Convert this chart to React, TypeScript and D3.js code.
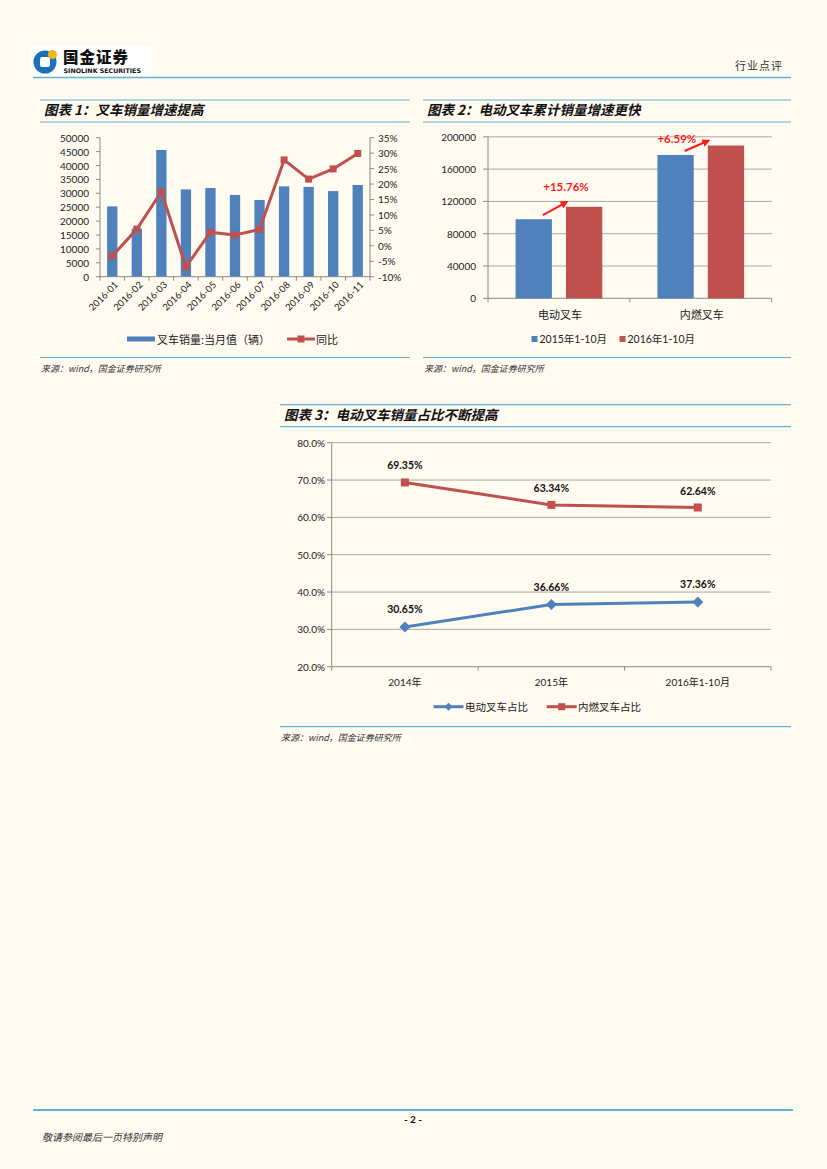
import * as d3 from "d3";
import { useEffect } from "react";

/* ------------------------------------------------------------------ */
/*  Data                                                               */
/* ------------------------------------------------------------------ */

const MONTHS = [
  "2016-01", "2016-02", "2016-03", "2016-04", "2016-05", "2016-06",
  "2016-07", "2016-08", "2016-09", "2016-10", "2016-11",
];
const MONTHLY_SALES = [25300, 17300, 45600, 31400, 31900, 29400, 27600, 32500, 32300, 30800, 33000];
const YOY = [-3.3, 5.4, 17.5, -6.8, 4.4, 3.5, 5.3, 27.8, 21.6, 24.9, 29.9];

const TYPES = ["电动叉车", "内燃叉车"];
const PERIODS = ["2015年1-10月", "2016年1-10月"];
const CUM_2015 = [97900, 177500];
const CUM_2016 = [113300, 189200];
const GROWTH_LABELS = ["+15.76%", "+6.59%"];

const YEARS = ["2014年", "2015年", "2016年1-10月"];
const ELECTRIC_SHARE = [30.65, 36.66, 37.36];
const ICE_SHARE = [69.35, 63.34, 62.64];
const SHARE_SERIES = ["电动叉车占比", "内燃叉车占比"];

/* ------------------------------------------------------------------ */
/*  Theme                                                              */
/* ------------------------------------------------------------------ */

const BG = "#fffbf0";
const BLUE = "#4f81bd";
const RED = "#c0504d";
const RULE = "#62b2d8";
const AXIS = "#8a8a8a";
const GRID = "#a8a8a8";
const TXT = "#222";
const NUM = "Lato, 'Noto Sans CJK SC', sans-serif";
const CJK = "'Noto Sans CJK SC', sans-serif";

/* Panel frame: top rule, title, rule under title, bottom rule, source */
function Panel({ x0, x1, top, title, bottom }: { x0: number; x1: number; top: number; title: string; bottom: number }) {
  return (
    <g>
      <line x1={x0} x2={x1} y1={top} y2={top} stroke={RULE} strokeWidth={1.2} />
      <text x={x0 + 4} y={top + 15} fontFamily={CJK} fontSize={13.5} fontWeight={700} fontStyle="italic" fill="#111">
        {title}
      </text>
      <line x1={x0} x2={x1} y1={top + 22} y2={top + 22} stroke={RULE} strokeWidth={1.2} />
      <line x1={x0} x2={x1} y1={bottom} y2={bottom} stroke={RULE} strokeWidth={1.2} />
      <text x={x0 + 1} y={bottom + 14} fontFamily={CJK} fontSize={9} fill="#333" fontStyle="italic">
        来源：wind，国金证券研究所
      </text>
    </g>
  );
}

/* ------------------------------------------------------------------ */
/*  Chart 1: monthly sales + yoy                                       */
/* ------------------------------------------------------------------ */

function Chart1() {
  const x = d3.scaleBand<string>().domain(MONTHS).range([100, 370]).paddingInner(0.58).paddingOuter(0.29);
  const yL = d3.scaleLinear().domain([0, 50000]).range([276.7, 137.7]);
  const yR = d3.scaleLinear().domain([-10, 35]).range([276.7, 137.7]);
  const step = x.step();
  const line = d3
    .line<number>()
    .x((_, i) => (x(MONTHS[i]) ?? 0) + x.bandwidth() / 2)
    .y((d) => yR(d));
  const leftTicks = d3.range(0, 50001, 5000);
  const rightTicks = d3.range(-10, 36, 5);
  const bounds = d3.range(MONTHS.length + 1).map((i) => 100 + i * step);

  return (
    <g>
      <Panel x0={40} x1={410} top={100} title="图表 1：叉车销量增速提高" bottom={357.5} />
      {MONTHLY_SALES.map((v, i) => (
        <rect key={i} x={x(MONTHS[i])} y={yL(v)} width={x.bandwidth()} height={yL(0) - yL(v)} fill={BLUE} />
      ))}
      {/* axes */}
      <line x1={100} x2={100} y1={yL(50000)} y2={yL(0)} stroke={AXIS} />
      <line x1={370} x2={370} y1={yR(35)} y2={yR(-10)} stroke={AXIS} />
      <line x1={100} x2={370} y1={yL(0)} y2={yL(0)} stroke={AXIS} />
      {leftTicks.map((t) => (
        <g key={t}>
          <line x1={96} x2={100} y1={yL(t)} y2={yL(t)} stroke={AXIS} />
          <text x={89} y={yL(t)} textAnchor="end" dominantBaseline="central" fontFamily={NUM} fontSize={10} fill={TXT}>
            {t}
          </text>
        </g>
      ))}
      {rightTicks.map((t) => (
        <g key={t}>
          <line x1={370} x2={374} y1={yR(t)} y2={yR(t)} stroke={AXIS} />
          <text x={378} y={yR(t)} dominantBaseline="central" fontFamily={NUM} fontSize={10} fill={TXT}>
            {`${t}%`}
          </text>
        </g>
      ))}
      {bounds.map((b, i) => (
        <line key={i} x1={b} x2={b} y1={yL(0)} y2={yL(0) + 4} stroke={AXIS} />
      ))}
      {MONTHS.map((m) => {
        const cx = (x(m) ?? 0) + x.bandwidth() / 2 + 4;
        return (
          <text
            key={m}
            transform={`translate(${cx},${283}) rotate(-45)`}
            textAnchor="end"
            dominantBaseline="central"
            fontFamily={NUM}
            fontSize={9.5}
            fill={TXT}
          >
            {m}
          </text>
        );
      })}
      <path d={line(YOY) ?? ""} fill="none" stroke={RED} strokeWidth={3} strokeLinejoin="round" />
      {YOY.map((v, i) => (
        <rect key={i} x={(x(MONTHS[i]) ?? 0) + x.bandwidth() / 2 - 3.5} y={yR(v) - 3.5} width={7} height={7} fill={RED} />
      ))}
      {/* legend */}
      <rect x={127} y={336.5} width={28} height={5} fill={BLUE} />
      <text x={157} y={339} dominantBaseline="central" fontFamily={CJK} fontSize={11} fill={TXT}>
        叉车销量:当月值（辆）
      </text>
      <line x1={287} x2={315} y1={339} y2={339} stroke={RED} strokeWidth={3} />
      <rect x={297.5} y={335.5} width={7} height={7} fill={RED} />
      <text x={316} y={339} dominantBaseline="central" fontFamily={CJK} fontSize={11} fill={TXT}>
        同比
      </text>
    </g>
  );
}

/* ------------------------------------------------------------------ */
/*  Chart 2: cumulative sales by type                                  */
/* ------------------------------------------------------------------ */

function Chart2() {
  const x0 = d3.scaleBand<string>().domain(TYPES).range([488, 771.7]);
  const x1 = d3.scaleBand<string>().domain(PERIODS).range([0, x0.bandwidth()]).paddingInner(0.28).paddingOuter(0.547);
  const y = d3.scaleLinear().domain([0, 200000]).range([298.3, 136.8]);
  const ticks = d3.range(0, 200001, 40000);
  const series = [CUM_2015, CUM_2016];
  const colors = [BLUE, RED];
  const labelOffsets = [
    { dx: 0, dy: -20 },
    { dx: -31, dy: -7 },
  ];

  return (
    <g>
      <defs>
        <marker id="arrow" viewBox="0 0 10 10" refX="8" refY="5" markerWidth="4" markerHeight="4" orient="auto">
          <path d="M0,0 L10,5 L0,10 z" fill="#ff1a1a" />
        </marker>
      </defs>
      <Panel x0={423} x1={791} top={100} title="图表 2：电动叉车累计销量增速更快" bottom={357.5} />
      {ticks.map((t) => (
        <g key={t}>
          {t > 0 && <line x1={488} x2={771.7} y1={y(t)} y2={y(t)} stroke={GRID} />}
          <line x1={483} x2={488} y1={y(t)} y2={y(t)} stroke={AXIS} />
          <text x={476} y={y(t)} textAnchor="end" dominantBaseline="central" fontFamily={NUM} fontSize={10} fill={TXT}>
            {t}
          </text>
        </g>
      ))}
      <line x1={488} x2={488} y1={y(200000)} y2={y(0)} stroke={AXIS} />
      <line x1={488} x2={771.7} y1={y(0)} y2={y(0)} stroke={AXIS} />
      {[0, 1, 2].map((i) => (
        <line key={i} x1={488 + i * x0.bandwidth()} x2={488 + i * x0.bandwidth()} y1={y(0)} y2={y(0) + 4} stroke={AXIS} />
      ))}
      {TYPES.map((c, ci) => (
        <g key={c}>
          {series.map((s, si) => (
            <rect
              key={si}
              x={(x0(c) ?? 0) + (x1(PERIODS[si]) ?? 0)}
              y={y(s[ci])}
              width={x1.bandwidth()}
              height={y(0) - y(s[ci])}
              fill={colors[si]}
            />
          ))}
          <text
            x={(x0(c) ?? 0) + x0.bandwidth() / 2 + 1}
            y={313.5}
            textAnchor="middle"
            dominantBaseline="central"
            fontFamily={CJK}
            fontSize={11}
            fill={TXT}
          >
            {c}
          </text>
        </g>
      ))}
      {/* growth annotations */}
      {TYPES.map((c, ci) => {
        const bx = (x0(c) ?? 0) + (x1(PERIODS[0]) ?? 0);
        const rx = (x0(c) ?? 0) + (x1(PERIODS[1]) ?? 0);
        const sx = bx + x1.bandwidth() * 0.75;
        const sy = y(CUM_2015[ci]) - 4;
        const ex = rx + 1;
        const ey = y(CUM_2016[ci]) - 5;
        const o = labelOffsets[ci];
        return (
          <g key={c}>
            <line x1={sx} y1={sy} x2={ex} y2={ey} stroke="#ff1a1a" strokeWidth={2} markerEnd="url(#arrow)" />
            <text
              x={rx + o.dx}
              y={y(CUM_2016[ci]) + o.dy}
              textAnchor="middle"
              dominantBaseline="central"
              fontFamily={NUM}
              fontWeight={700}
              fontSize={11.5}
              fill="#ff1a1a"
            >
              {GROWTH_LABELS[ci]}
            </text>
          </g>
        );
      })}
      {/* legend */}
      {PERIODS.map((p, i) => {
        const lx = [531.5, 619.5][i];
        return (
          <g key={p}>
            <rect x={lx} y={336} width={6} height={6} fill={colors[i]} />
            <text x={lx + 8} y={339.3} dominantBaseline="central" fontFamily={NUM} fontSize={10.5} fill={TXT}>
              {p}
            </text>
          </g>
        );
      })}
    </g>
  );
}

/* ------------------------------------------------------------------ */
/*  Chart 3: share of electric vs ICE                                  */
/* ------------------------------------------------------------------ */

function Chart3() {
  const x = d3.scaleBand<string>().domain(YEARS).range([331.7, 771]);
  const y = d3.scaleLinear().domain([20, 80]).range([666.7, 442.7]);
  const ticks = d3.range(20, 81, 10);
  const cx = (i: number) => (x(YEARS[i]) ?? 0) + x.bandwidth() / 2;
  const line = d3
    .line<number>()
    .x((_, i) => cx(i))
    .y((d) => y(d));
  const diamond = (px: number, py: number, r: number) => `M${px},${py - r}L${px + r},${py}L${px},${py + r}L${px - r},${py}Z`;

  return (
    <g>
      <Panel x0={280} x1={791} top={404.7} title="图表 3：电动叉车销量占比不断提高" bottom={726.7} />
      {ticks.map((t) => (
        <g key={t}>
          {t > 20 && <line x1={331.7} x2={771} y1={y(t)} y2={y(t)} stroke={GRID} />}
          <line x1={327} x2={331.7} y1={y(t)} y2={y(t)} stroke={AXIS} />
          <text x={325} y={y(t)} textAnchor="end" dominantBaseline="central" fontFamily={NUM} fontSize={10} fill={TXT}>
            {`${t.toFixed(1)}%`}
          </text>
        </g>
      ))}
      <line x1={331.7} x2={331.7} y1={y(80)} y2={y(20)} stroke={AXIS} />
      <line x1={331.7} x2={771} y1={y(20)} y2={y(20)} stroke={AXIS} />
      {[0, 1, 2, 3].map((i) => (
        <line key={i} x1={331.7 + i * x.bandwidth()} x2={331.7 + i * x.bandwidth()} y1={y(20)} y2={y(20) + 4} stroke={AXIS} />
      ))}
      {YEARS.map((c, i) => (
        <text key={c} x={cx(i)} y={681.7} textAnchor="middle" dominantBaseline="central" fontFamily={NUM} fontSize={10} fill={TXT}>
          {c}
        </text>
      ))}
      <path d={line(ICE_SHARE) ?? ""} fill="none" stroke={RED} strokeWidth={3} />
      <path d={line(ELECTRIC_SHARE) ?? ""} fill="none" stroke={BLUE} strokeWidth={3} />
      {ICE_SHARE.map((v, i) => (
        <g key={i}>
          <rect x={cx(i) - 4} y={y(v) - 4} width={8} height={8} fill={RED} />
          <text x={cx(i)} y={y(v) - 17} textAnchor="middle" dominantBaseline="central" fontFamily={NUM} fontWeight={700} fontSize={10.5} fill="#111">
            {`${v.toFixed(2)}%`}
          </text>
        </g>
      ))}
      {ELECTRIC_SHARE.map((v, i) => (
        <g key={i}>
          <path d={diamond(cx(i), y(v), 5.5)} fill={BLUE} />
          <text x={cx(i)} y={y(v) - 18} textAnchor="middle" dominantBaseline="central" fontFamily={NUM} fontWeight={700} fontSize={10.5} fill="#111">
            {`${v.toFixed(2)}%`}
          </text>
        </g>
      ))}
      {/* legend */}
      <line x1={433.5} x2={463.5} y1={706.7} y2={706.7} stroke={BLUE} strokeWidth={3} />
      <path d={diamond(448.5, 706.7, 4)} fill={BLUE} />
      <text x={465} y={706.7} dominantBaseline="central" fontFamily={CJK} fontSize={10.5} fill={TXT}>
        {SHARE_SERIES[0]}
      </text>
      <line x1={546.7} x2={576.7} y1={706.7} y2={706.7} stroke={RED} strokeWidth={3} />
      <rect x={558.2} y={703.2} width={7} height={7} fill={RED} />
      <text x={578} y={706.7} dominantBaseline="central" fontFamily={CJK} fontSize={10.5} fill={TXT}>
        {SHARE_SERIES[1]}
      </text>
    </g>
  );
}

/* ------------------------------------------------------------------ */
/*  Page                                                               */
/* ------------------------------------------------------------------ */

export default function App() {
  useEffect(() => {
    document.body.style.margin = "0";
    document.body.style.background = BG;
  }, []);

  return (
    <svg width={827} height={1169} style={{ position: "absolute", left: 0, top: 0, display: "block" }}>
      <rect width={827} height={1169} fill={BG} />
      {/* header */}
      <rect x={31} y={46} width={121} height={30} fill="#fff" />
      <circle cx={45} cy={62} r={11.5} fill="#1d6fb8" />
      <rect x={40} y={57} width={10} height={10} rx={2} fill="#fff" />
      <circle cx={52.5} cy={54.5} r={4.5} fill="#f4b41a" />
      <text x={63} y={63} fontFamily={CJK} fontWeight={900} fontSize={15.5} fill="#111" letterSpacing={1}>
        国金证券
      </text>
      <text x={63.5} y={73} fontFamily="'DejaVu Sans', sans-serif" fontWeight={700} fontSize={6.3} fill="#111">
        SINOLINK SECURITIES
      </text>
      <text x={735} y={70} fontFamily={CJK} fontSize={11} fill="#333" letterSpacing={1}>
        行业点评
      </text>
      <line x1={33} x2={791} y1={77.5} y2={77.5} stroke={RULE} strokeWidth={1.5} />

      <Chart1 />
      <Chart2 />
      <Chart3 />

      {/* footer */}
      <line x1={33} x2={793} y1={1110} y2={1110} stroke={RULE} strokeWidth={2} />
      <text x={413} y={1119} textAnchor="middle" dominantBaseline="central" fontFamily={NUM} fontWeight={700} fontSize={10} fill="#111">
        - 2 -
      </text>
      <text x={42} y={1136} dominantBaseline="central" fontFamily={CJK} fontSize={10} fill="#333" fontStyle="italic">
        敬请参阅最后一页特别声明
      </text>
    </svg>
  );
}
